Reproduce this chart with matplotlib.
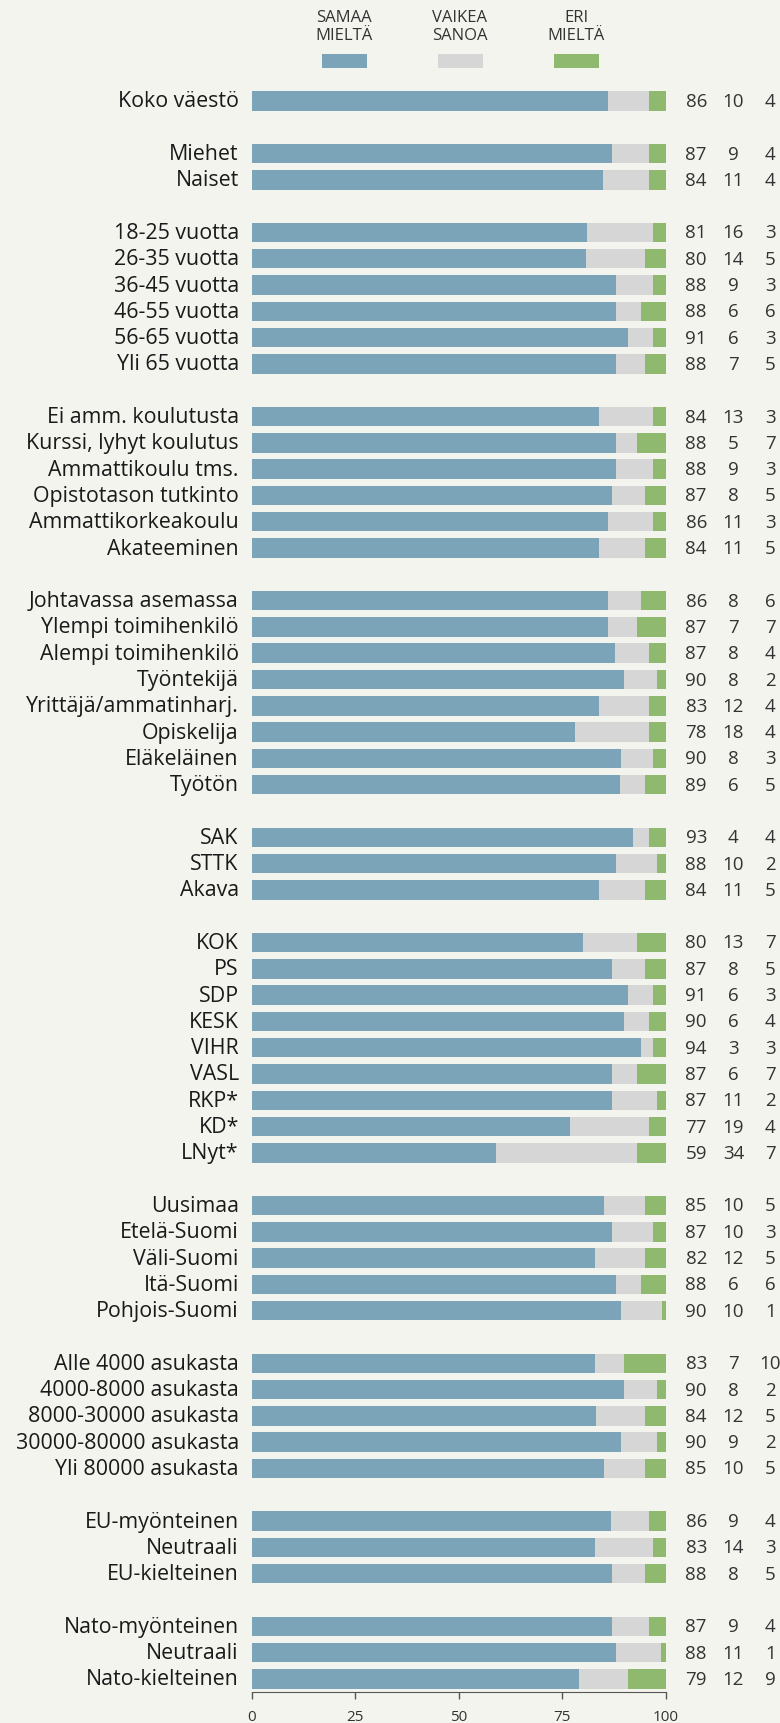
import numpy as np
import matplotlib.pyplot as plt
from matplotlib.patches import Rectangle

plt.rcParams['font.family'] = ['Open Sans', 'DejaVu Sans']

# ryhmät; None = tyhjä rivi ryhmien välissä
labels = ["Koko väestö", None,
          "Miehet", "Naiset", None,
          "18-25 vuotta", "26-35 vuotta", "36-45 vuotta", "46-55 vuotta", "56-65 vuotta", "Yli 65 vuotta", None,
          "Ei amm. koulutusta", "Kurssi, lyhyt koulutus", "Ammattikoulu tms.", "Opistotason tutkinto",
          "Ammattikorkeakoulu", "Akateeminen", None,
          "Johtavassa asemassa", "Ylempi toimihenkilö", "Alempi toimihenkilö", "Työntekijä",
          "Yrittäjä/ammatinharj.", "Opiskelija", "Eläkeläinen", "Työtön", None,
          "SAK", "STTK", "Akava", None,
          "KOK", "PS", "SDP", "KESK", "VIHR", "VASL", "RKP*", "KD*", "LNyt*", None,
          "Uusimaa", "Etelä-Suomi", "Väli-Suomi", "Itä-Suomi", "Pohjois-Suomi", None,
          "Alle 4000 asukasta", "4000-8000 asukasta", "8000-30000 asukasta", "30000-80000 asukasta",
          "Yli 80000 asukasta", None,
          "EU-myönteinen", "Neutraali", "EU-kielteinen", None,
          "Nato-myönteinen", "Neutraali", "Nato-kielteinen"]
samaa = [86, 87, 84, 81, 80, 88, 88, 91, 88, 84, 88, 88, 87, 86, 84,
         86, 87, 87, 90, 83, 78, 90, 89, 93, 88, 84,
         80, 87, 91, 90, 94, 87, 87, 77, 59, 85, 87, 82, 88, 90,
         83, 90, 84, 90, 85, 86, 83, 88, 87, 88, 79]
vaikea = [10, 9, 11, 16, 14, 9, 6, 6, 7, 13, 5, 9, 8, 11, 11,
          8, 7, 8, 8, 12, 18, 8, 6, 4, 10, 11,
          13, 8, 6, 6, 3, 6, 11, 19, 34, 10, 10, 12, 6, 10,
          7, 8, 12, 9, 10, 9, 14, 8, 9, 11, 12]
eri = [4, 4, 4, 3, 5, 3, 6, 3, 5, 3, 7, 3, 5, 3, 5,
       6, 7, 4, 2, 4, 4, 3, 5, 4, 2, 5,
       7, 5, 3, 4, 3, 7, 2, 4, 7, 5, 3, 5, 6, 1,
       10, 2, 5, 2, 5, 4, 3, 5, 4, 1, 9]
legend_names = ["SAMAA\nMIELTÄ", "VAIKEA\nSANOA", "ERI\nMIELTÄ"]
colors = ["#7ba4b8", "#d6d6d6", "#8fb96f"]
bg = "#f4f4ef"

rows = [i for i, l in enumerate(labels) if l is not None]
names = [l for l in labels if l is not None]
vals = np.array([samaa, vaikea, eri], dtype=float)
widths = vals / vals.sum(axis=0) * 100

W, H = 780, 1724
fig = plt.figure(figsize=(W / 100, H / 100), dpi=100, facecolor=bg)
ax = fig.add_axes([252 / W, 1 - 1693 / H, (665.6 - 252) / W, (1693 - 88.8) / H], facecolor=bg)

left = np.zeros(len(rows))
for k in range(3):
    ax.barh(rows, widths[k], left=left, height=0.74, color=colors[k], linewidth=0)
    left += widths[k]

for y, name, a, b, c in zip(rows, names, samaa, vaikea, eri):
    ax.text(-3.2, y, name, ha='right', va='center', fontsize=15.4, color='#1a1a1a')
    for x, v in zip([107.4, 116.4, 125.3], [a, b, c]):
        ax.text(x, y, str(v), ha='center', va='center', fontsize=13.5, color='#333333', clip_on=False)

ax.set_xlim(0, 100)
ax.set_ylim(len(labels) - 0.5, -0.5)
ax.set_yticks([])
ax.set_xticks([0, 25, 50, 75, 100])
ax.tick_params(axis='x', length=5, width=1, color='#555555', pad=7, labelsize=11, labelcolor='#333333')
for s in ['top', 'right', 'left']:
    ax.spines[s].set_visible(False)
ax.spines['bottom'].set_color('#555555')

# selite ylhäällä
for cx, name, col in zip([344, 460, 576], legend_names, colors):
    fig.text(cx / W, 1 - 27 / H, name, ha='center', va='center', fontsize=12, color='#333333', linespacing=1.1)
    fig.add_artist(Rectangle(((cx - 22.5) / W, 1 - 69 / H), 45 / W, 14 / H,
                             transform=fig.transFigure, color=col, linewidth=0))

fig.savefig("out.png", dpi=100, facecolor=bg)
